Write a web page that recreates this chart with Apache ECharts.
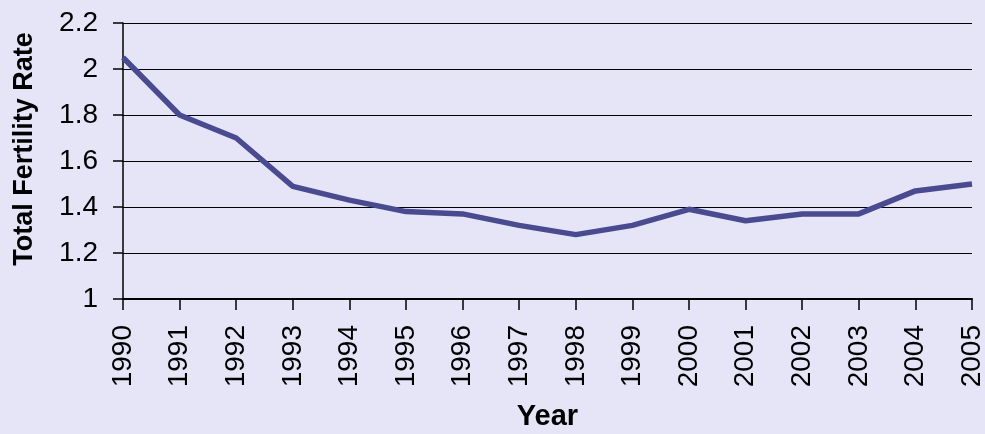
<!DOCTYPE html>
<html>
<head>
<meta charset="utf-8">
<script src="https://cdn.jsdelivr.net/npm/echarts@6/dist/echarts.min.js"></script>
<style>
  html, body { margin: 0; padding: 0; background: #e5e5f7; }
  #chart { width: 985px; height: 434px; }
</style>
</head>
<body>
<div id="chart"></div>
<script>
// Total fertility rate by year
const years = ['1990','1991','1992','1993','1994','1995','1996','1997','1998','1999','2000','2001','2002','2003','2004','2005'];
const fertility = [2.05, 1.80, 1.70, 1.49, 1.43, 1.38, 1.37, 1.32, 1.28, 1.32, 1.39, 1.34, 1.37, 1.37, 1.47, 1.50];
const yTicks = [1, 1.2, 1.4, 1.6, 1.8, 2, 2.2];

const chart = echarts.init(document.getElementById('chart'));
chart.setOption({
  backgroundColor: '#e5e5f7',
  animation: false,
  grid: { left: 123, right: 13, top: 23, bottom: 135, containLabel: false, outerBoundsMode: 'none' },
  xAxis: {
    type: 'category',
    data: years,
    boundaryGap: false,
    name: 'Year',
    nameLocation: 'middle',
    nameGap: 103,
    nameTextStyle: { fontFamily: 'Liberation Sans', fontWeight: 'bold', fontSize: 29, color: '#000' },
    axisLine: { lineStyle: { color: '#000', width: 2 } },
    axisTick: { alignWithLabel: true, length: 11, lineStyle: { color: '#000', width: 1.5 } },
    axisLabel: {
      rotate: 90, margin: 26, interval: 0,
      fontFamily: 'Liberation Sans', fontSize: 28, color: '#000'
    },
    splitLine: { show: false }
  },
  yAxis: {
    type: 'value',
    min: yTicks[0],
    max: yTicks[yTicks.length - 1],
    interval: 0.2,
    axisLine: { show: true, lineStyle: { color: '#000', width: 1.5 } },
    axisTick: { show: true, length: 10, lineStyle: { color: '#000', width: 1.5 } },
    axisLabel: {
      margin: 25,
      fontFamily: 'Liberation Sans', fontSize: 28, color: '#000',
      formatter: v => String(Math.round(v * 10) / 10)
    },
    splitLine: { lineStyle: { color: '#000', width: 1.2 } }
  },
  graphic: [{
    type: 'text',
    x: 25,
    y: 149,
    rotation: Math.PI / 2,
    style: {
      text: 'Total Fertility Rate',
      fontFamily: 'Liberation Sans', fontWeight: 'bold', fontSize: 27, fill: '#000',
      align: 'center', verticalAlign: 'middle'
    }
  }],
  series: [{
    type: 'line',
    data: fertility,
    symbol: 'none',
    lineStyle: { color: '#4a4a90', width: 5.5 },
    z: 5
  }]
});
</script>
</body>
</html>
